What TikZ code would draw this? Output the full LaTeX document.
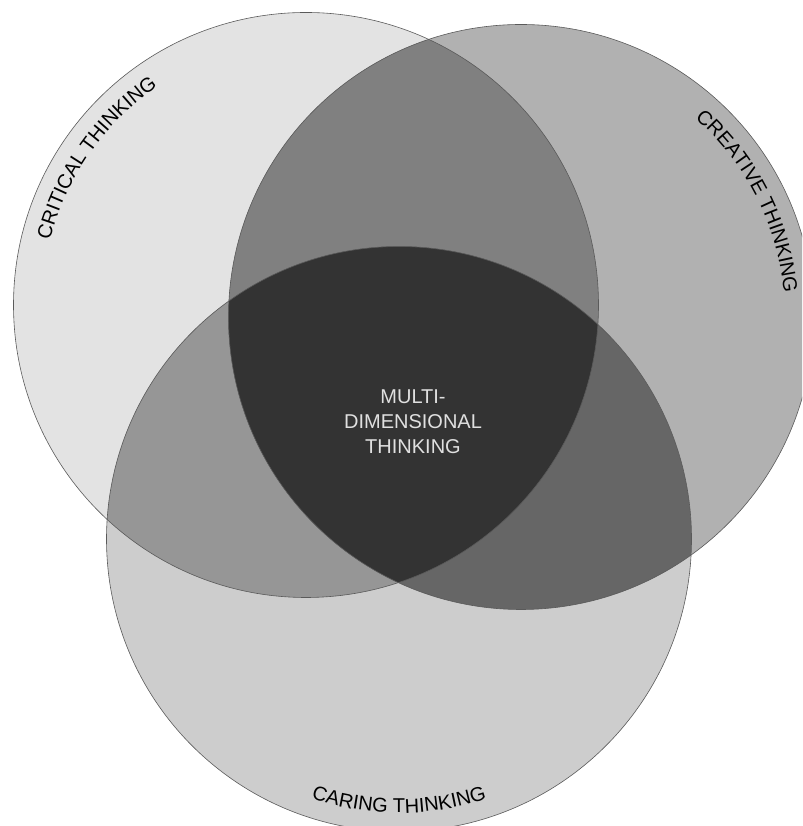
\documentclass[tikz,border=0pt]{standalone}
\usepackage{fontspec}
\setmainfont{Liberation Sans}
\usetikzlibrary{decorations.text}
\definecolor{cA}{HTML}{E3E3E3}
\definecolor{cB}{HTML}{B1B1B1}
\definecolor{cC}{HTML}{CDCDCD}
\definecolor{cAB}{HTML}{808080}
\definecolor{cAC}{HTML}{969696}
\definecolor{cBC}{HTML}{666666}
\definecolor{cABC}{HTML}{333333}
\definecolor{edge}{HTML}{5A5A5A}
\newcommand\labfont{\fontsize{20}{24}\selectfont}
\begin{document}
\begin{tikzpicture}[x=1pt,y=1pt,
  ring/.style={draw=edge,line width=0.6pt},
  arclabel/.style={decorate,decoration={text along path,text align=center,text={|\labfont|#1}}}]
\useasboundingbox (0,0) rectangle (802,826);
\clip (0,0) rectangle (802,826);
\coordinate (A) at (306,521);
\coordinate (B) at (521,509);
\coordinate (C) at (399,287);
\def\R{292.5pt}
\fill[cA] (A) circle[radius=\R];
\fill[cB] (B) circle[radius=\R];
\fill[cC] (C) circle[radius=\R];
\begin{scope}
  \clip (A) circle[radius=\R];
  \fill[cAB] (B) circle[radius=\R];
  \fill[cAC] (C) circle[radius=\R];
\end{scope}
\begin{scope}
  \clip (B) circle[radius=\R];
  \fill[cBC] (C) circle[radius=\R];
  \clip (A) circle[radius=\R];
  \fill[cABC] (C) circle[radius=\R];
\end{scope}
\draw[ring] (A) circle[radius=\R];
\draw[ring] (B) circle[radius=\R];
\draw[ring] (C) circle[radius=\R];
\path[arclabel={CRITICAL THINKING}] ([shift={(185:264pt)}]A) arc[start angle=185,end angle=105,radius=264pt];
\path[arclabel={CREATIVE THINKING}] ([shift={(67:264pt)}]B) arc[start angle=67,end angle=-13,radius=264pt];
\path[arclabel={CARING THINKING}] ([shift={(230:274pt)}]C) arc[start angle=230,end angle=310,radius=274pt];
\node[text=white!88!black,align=center,font=\fontsize{20}{25}\selectfont] (mdt) at (413,404) {MULTI-\\DIMENSIONAL\\THINKING};
\end{tikzpicture}
\end{document}
